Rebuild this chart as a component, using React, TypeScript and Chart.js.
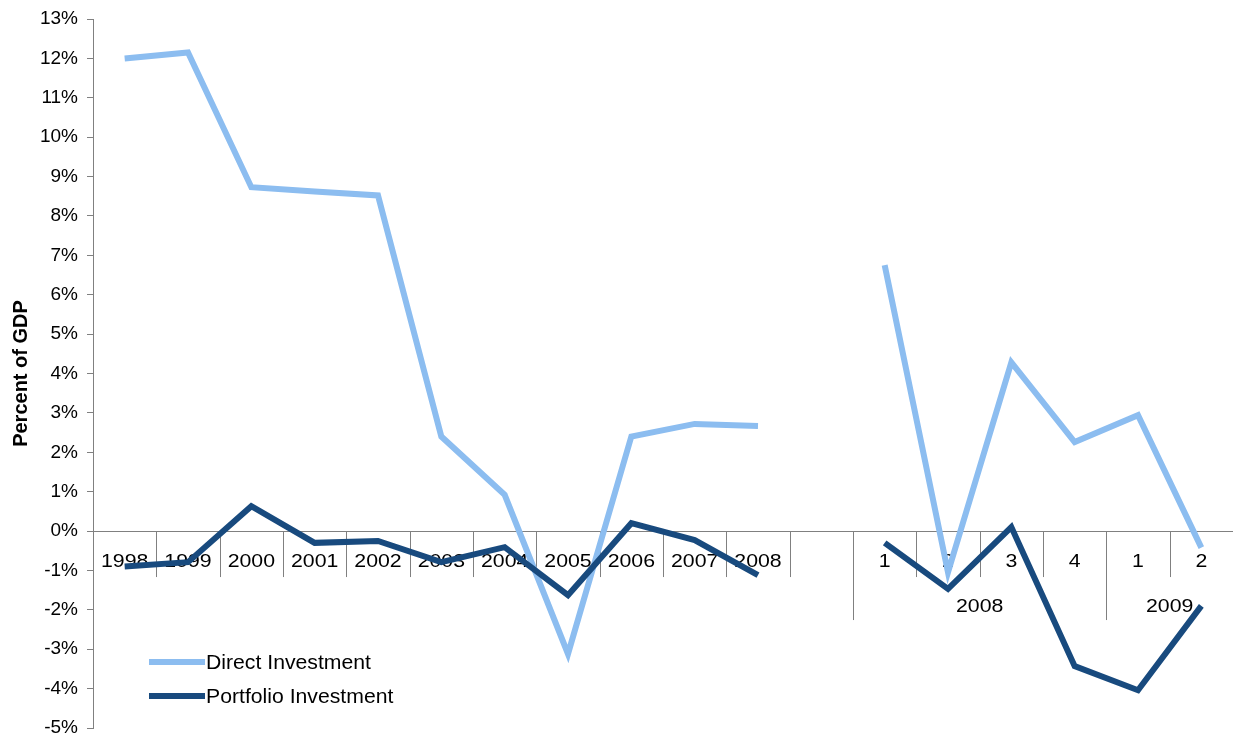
import React, { useEffect, useRef } from "react";
import { Chart, registerables } from "chart.js";

Chart.register(...registerables);

const categoryLabels = ["1998", "1999", "2000", "2001", "2002", "2003", "2004", "2005", "2006", "2007", "2008", "", "1", "2", "3", "4", "1", "2"];
const groupNames = ["2008", "2009"];
const groupStarts = [12, 16];
const groupEnds = [15, 17];

const directInvestment = [12.0, 12.15, 8.73, 8.62, 8.52, 2.4, 0.92, -3.12, 2.4, 2.72, 2.67, null, 6.75, -1.05, 4.28, 2.26, 2.94, -0.42];
const portfolioInvestment = [-0.9, -0.79, 0.63, -0.3, -0.25, -0.79, -0.41, -1.63, 0.2, -0.23, -1.12, null, -0.3, -1.47, 0.1, -3.43, -4.04, -1.9];

const seriesNames = ["Direct Investment", "Portfolio Investment"];
const seriesColors = ["#8cbdf0", "#184a7e"];

const FONT = "'Liberation Sans', Arial, sans-serif";

function stretchedText(ctx: any, text: string, x: number, y: number, sx: number, align: string) {
  ctx.save();
  ctx.translate(x, y);
  ctx.scale(sx, 1);
  ctx.textAlign = align;
  ctx.fillText(text, 0, 0);
  ctx.restore();
}

const axisPlugin = {
  id: "customAxis",
  beforeDatasetsDraw(chart: any) {
    const { ctx, chartArea, scales } = chart;
    const xs = scales.x;
    const ys = scales.y;
    const y0 = ys.getPixelForValue(0);
    const n = categoryLabels.length;
    const w = (chartArea.right - chartArea.left) / n;
    ctx.save();
    ctx.strokeStyle = "#808080";
    ctx.lineWidth = 1;
    ctx.beginPath();
    ctx.moveTo(chartArea.left, Math.round(y0) + 0.5);
    ctx.lineTo(chartArea.right, Math.round(y0) + 0.5);
    ctx.stroke();
    for (let i = 1; i < n; i++) {
      const x = Math.round(xs.getPixelForValue(i) - w / 2) + 0.5;
      const long = groupStarts.includes(i);
      ctx.beginPath();
      ctx.moveTo(x, y0);
      ctx.lineTo(x, y0 + (long ? 89 : 46));
      ctx.stroke();
    }
    ctx.fillStyle = "#000";
    ctx.font = `19px ${FONT}`;
    ctx.textBaseline = "middle";
    for (let i = 0; i < n; i++) {
      if (!categoryLabels[i]) continue;
      stretchedText(ctx, categoryLabels[i], xs.getPixelForValue(i), y0 + 31, 1.12, "center");
    }
    for (let g = 0; g < groupNames.length; g++) {
      const xc = (xs.getPixelForValue(groupStarts[g]) + xs.getPixelForValue(groupEnds[g])) / 2;
      stretchedText(ctx, groupNames[g], xc, y0 + 76, 1.12, "center");
    }
    ctx.restore();
  },
  afterDraw(chart: any) {
    const { ctx } = chart;
    ctx.save();
    ctx.font = `20px ${FONT}`;
    ctx.textBaseline = "middle";
    for (let i = 0; i < seriesNames.length; i++) {
      const y = 662 + i * 34;
      ctx.strokeStyle = seriesColors[i];
      ctx.lineWidth = 6;
      ctx.beginPath();
      ctx.moveTo(149, y);
      ctx.lineTo(205, y);
      ctx.stroke();
      ctx.fillStyle = "#000";
      stretchedText(ctx, seriesNames[i], 206, y + 1, 1.06, "left");
    }
    ctx.restore();
  },
};

export default function App() {
  const ref = useRef<HTMLCanvasElement>(null);
  useEffect(() => {
    document.body.style.margin = "0";
    const chart = new Chart(ref.current!, {
      type: "line",
      data: {
        labels: categoryLabels,
        datasets: [
          {
            label: seriesNames[0],
            data: directInvestment,
            borderColor: seriesColors[0],
            backgroundColor: seriesColors[0],
            borderWidth: 6,
            pointRadius: 0,
            tension: 0,
            spanGaps: false,
            borderJoinStyle: "miter",
            order: 1,
          },
          {
            label: seriesNames[1],
            data: portfolioInvestment,
            borderColor: seriesColors[1],
            backgroundColor: seriesColors[1],
            borderWidth: 6,
            pointRadius: 0,
            tension: 0,
            spanGaps: false,
            borderJoinStyle: "miter",
            order: 0,
          },
        ],
      },
      options: {
        responsive: false,
        animation: false,
        devicePixelRatio: 1,
        layout: { padding: { left: 0, right: 0, top: 19, bottom: 12 } },
        plugins: { legend: { display: false }, tooltip: { enabled: false } },
        scales: {
          x: {
            type: "category",
            offset: true,
            display: false,
            afterFit: (s: any) => {
              s.height = 0;
              s.paddingLeft = 0;
              s.paddingRight = 0;
            },
          },
          y: {
            min: -5,
            max: 13,
            afterFit: (s: any) => {
              s.width = 93;
              s.paddingTop = 0;
              s.paddingBottom = 0;
            },
            ticks: {
              stepSize: 1,
              color: "#000",
              padding: 9,
              font: { size: 19, family: FONT },
              callback: (v: any) => v + "%",
            },
            grid: { drawOnChartArea: false, drawTicks: true, tickLength: 6, color: "#808080" },
            border: { color: "#808080" },
            title: {
              display: true,
              text: "Percent of GDP",
              color: "#000",
              font: { size: 20, weight: "bold", family: FONT },
              padding: { top: 9, bottom: 0 },
            },
          },
        },
      },
      plugins: [axisPlugin],
    } as any);
    return () => chart.destroy();
  }, []);
  return <canvas ref={ref} width={1233} height={740} style={{ display: "block" }} />;
}
